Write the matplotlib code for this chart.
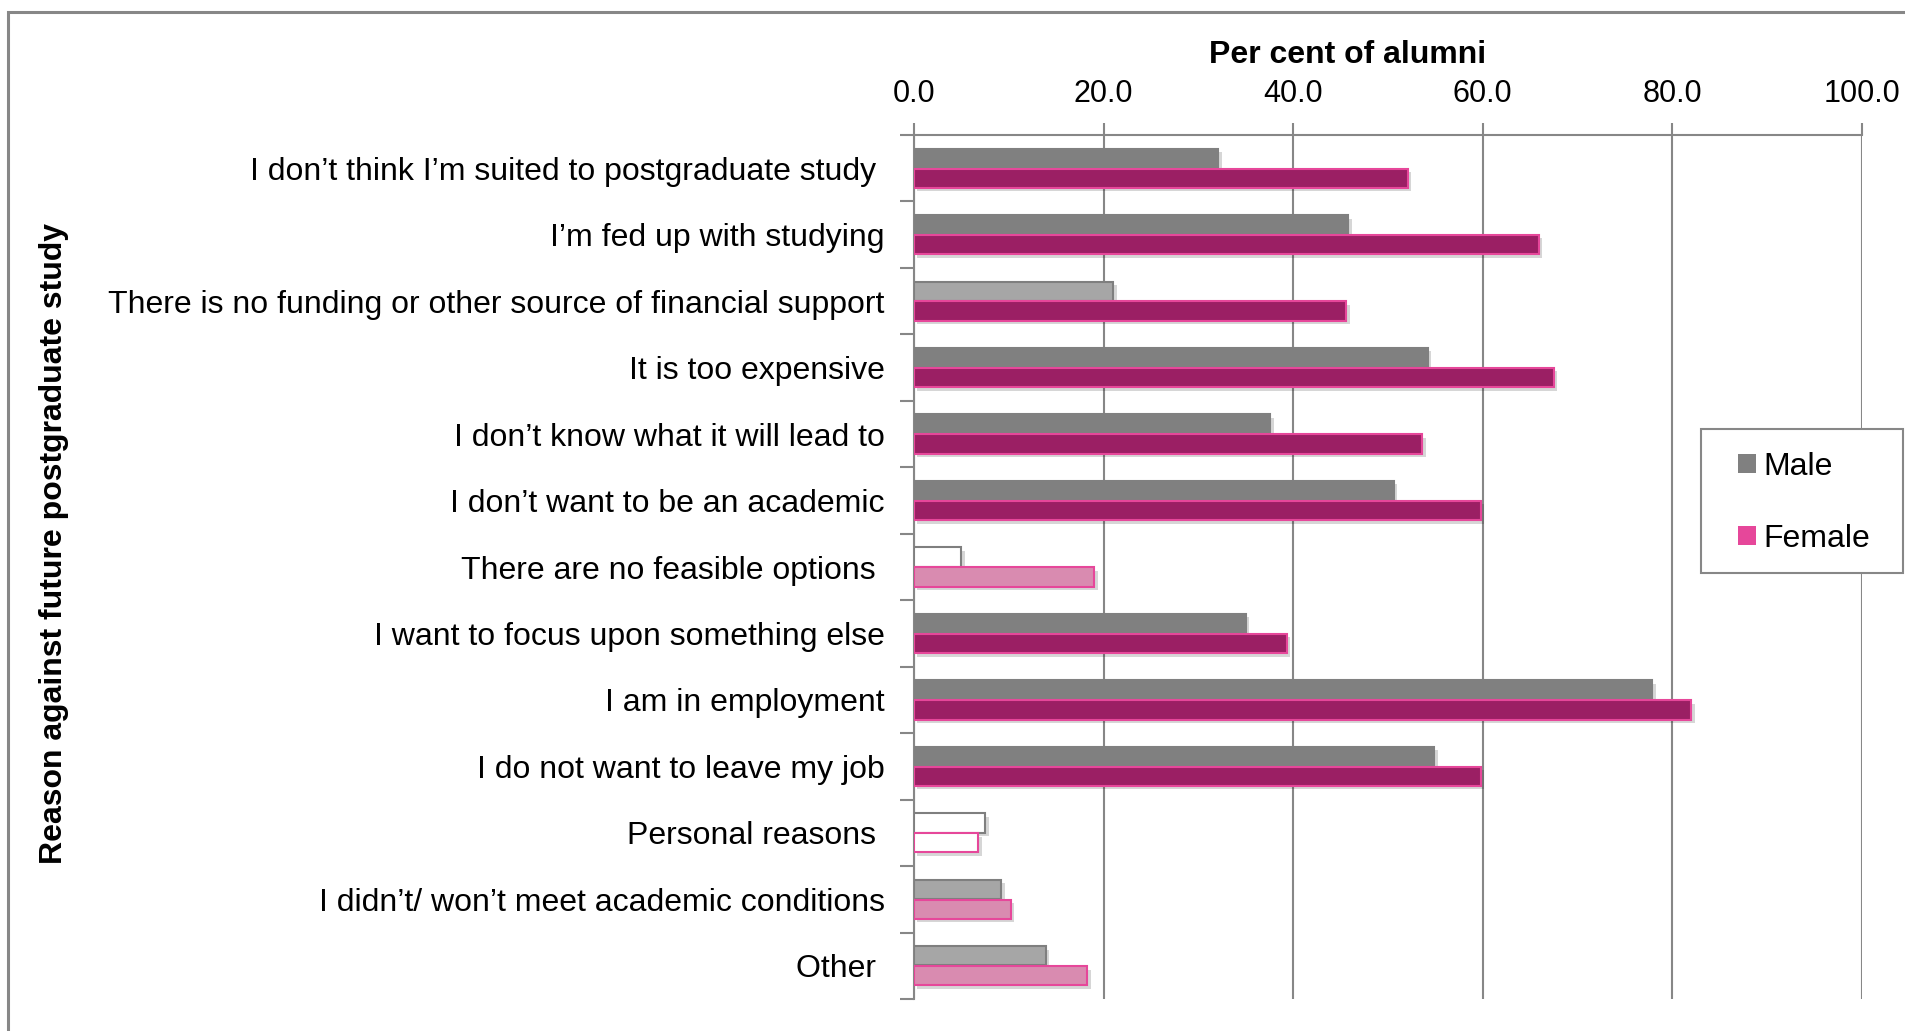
import matplotlib
matplotlib.use("Agg")
import matplotlib.pyplot as plt
import numpy as np
from matplotlib.patches import Patch, Rectangle
from matplotlib import patheffects as pe

categories = [
    "I don\u2019t think I\u2019m suited to postgraduate study ",
    "I\u2019m fed up with studying",
    "There is no funding or other source of financial support",
    "It is too expensive",
    "I don\u2019t know what it will lead to",
    "I don\u2019t want to be an academic",
    "There are no feasible options ",
    "I want to focus upon something else",
    "I am in employment",
    "I do not want to leave my job",
    "Personal reasons ",
    "I didn\u2019t/ won\u2019t meet academic conditions",
    "Other ",
]
male = [32.1, 45.8, 21.0, 54.2, 37.6, 50.6, 5.0, 35.0, 77.9, 54.9, 7.5, 9.2, 13.9]
female = [52.1, 65.9, 45.6, 67.5, 53.6, 59.8, 19.0, 39.3, 82.0, 59.8, 6.8, 10.2, 18.3]
# shading level per bar (2 = solid, 1 = light, 0 = open)
male_shade = [2, 2, 1, 2, 2, 2, 0, 2, 2, 2, 0, 1, 1]
female_shade = [2, 2, 2, 2, 2, 2, 1, 2, 2, 2, 0, 1, 1]
xticks = [0, 20, 40, 60, 80, 100]

GRID = "#878787"
PINK = "#e6479a"
male_fill = {2: "#808080", 1: "#a6a6a6", 0: "#ffffff"}
male_edge = {2: "#808080", 1: "#7f7f7f", 0: "#7f7f7f"}
female_fill = {2: "#9b1f64", 1: "#d98bb0", 0: "#ffffff"}

plt.rcParams["font.family"] = ["Liberation Sans", "DejaVu Sans"]

fig = plt.figure(figsize=(19.06, 10.31), dpi=100)
ax = fig.add_axes([914 / 1906, 1 - 999 / 1031, 948 / 1906, 864 / 1031])

y = np.arange(len(categories))
h = 0.29
shadow = [pe.SimplePatchShadow(offset=(2.5, -2.5), shadow_rgbFace="#000000", alpha=0.16), pe.Normal()]

for i in range(len(categories)):
    bm = ax.barh(y[i] - 0.15, male[i], height=h, color=male_fill[male_shade[i]],
                 edgecolor=male_edge[male_shade[i]], linewidth=1.5, zorder=3)
    bf = ax.barh(y[i] + 0.15, female[i], height=h, color=female_fill[female_shade[i]],
                 edgecolor=PINK, linewidth=1.5, zorder=3)
    for b in list(bm) + list(bf):
        b.set_path_effects(shadow)

ax.set_xlim(0, 100)
ax.set_ylim(len(categories) - 0.5, -0.5)
ax.xaxis.tick_top()
ax.xaxis.set_label_position("top")
ax.set_xticks(xticks)
ax.set_xticklabels([f"{v:.1f}" for v in xticks])
ax.tick_params(axis="x", direction="out", length=9, width=1.5, color=GRID,
               labelsize=22, pad=10)

ax.set_yticks(y)
ax.set_yticklabels(categories)
ax.set_yticks(np.arange(len(categories) + 1) - 0.5, minor=True)
ax.tick_params(axis="y", which="major", length=0, labelsize=23, pad=21)
ax.tick_params(axis="y", which="minor", direction="out", length=10, width=1.5, color=GRID)

ax.grid(axis="x", color=GRID, linewidth=1.5, zorder=0)
ax.set_axisbelow(True)
for s in ["right", "bottom"]:
    ax.spines[s].set_visible(False)
for s in ["top", "left"]:
    ax.spines[s].set_color(GRID)
    ax.spines[s].set_linewidth(1.5)

ax.set_xlabel("Per cent of alumni", fontsize=23, fontweight="bold")
ax.xaxis.set_label_coords(0.457, 1.093)
ax.xaxis.label.set_va("center")
ax.set_ylabel("Reason against future postgraduate study", fontsize=23, fontweight="bold")
ax.yaxis.set_label_coords(-0.907, 0.527)
ax.yaxis.label.set_va("center")

# legend box
box = Rectangle((1701.5 / 1906, 1 - 572.5 / 1031), 201.5 / 1906, 143.5 / 1031,
                transform=fig.transFigure, facecolor="white", edgecolor=GRID,
                linewidth=1.5, zorder=4)
fig.add_artist(box)
handles = [Patch(facecolor="#808080", edgecolor="none", label="Male"),
           Patch(facecolor=PINK, edgecolor="none", label="Female")]
leg = fig.legend(handles=handles, loc="upper left",
                 bbox_to_anchor=(1738 / 1906, 1 - 452 / 1031),
                 fontsize=23, frameon=False, handlelength=0.56, handleheight=0.56,
                 handletextpad=0.22, labelspacing=1.3, borderpad=0,
                 borderaxespad=0)
leg.set_zorder(5)

frame = Rectangle((8.5 / 1906, -0.1), 1.2, 1.1 - 12.5 / 1031, transform=fig.transFigure,
                  fill=False, edgecolor=GRID, linewidth=2.2, clip_on=False)
fig.add_artist(frame)

fig.savefig("out.png", dpi=100)
